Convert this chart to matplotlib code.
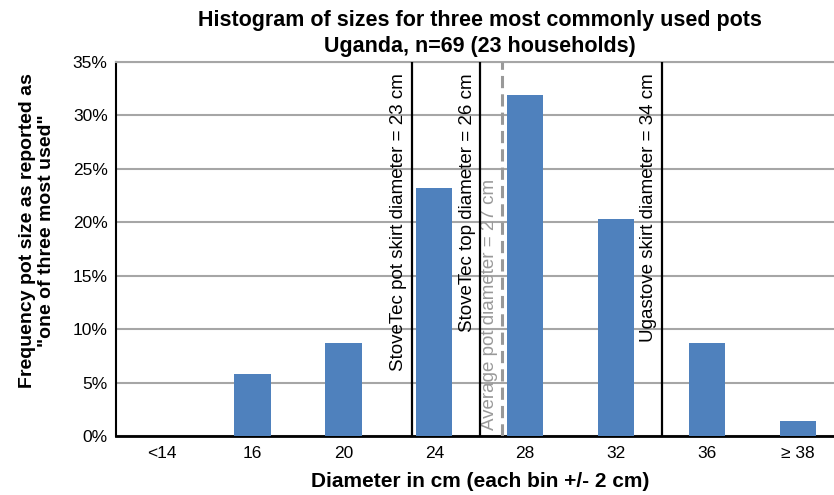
import matplotlib
matplotlib.use('Agg')
import matplotlib.pyplot as plt
import numpy as np

# bins (cm), each bin +/- 2 cm
bin_labels = ["<14", "16", "20", "24", "28", "32", "36", "\u2265 38"]
bin_centers_cm = [12, 16, 20, 24, 28, 32, 36, 40]
freq_pct = [0.0, 5.8, 8.7, 23.2, 31.9, 20.3, 8.7, 1.4]

# reference diameters drawn as vertical lines
ref_names = ["StoveTec pot skirt diameter = 23 cm",
             "StoveTec top diameter = 26 cm",
             "Average pot diameter = 27 cm",
             "Ugastove skirt diameter = 34 cm"]
ref_cm = [23, 26, 27, 34]

plt.rcParams['font.family'] = ['Liberation Sans', 'DejaVu Sans']

BAR_BLUE = "#4f81bd"
GRID_GRAY = "#a6a6a6"


def cm_to_pos(d):
    # bins are 4 cm apart; index 1 is the 16 cm bin
    return (d - 16) / 4.0 + 1


fig = plt.figure(figsize=(8.34, 4.95), dpi=100)
ax = fig.add_axes([116 / 834, 59 / 495, 727.5 / 834, 374 / 495])

x = np.arange(len(bin_labels))
ax.bar(x, freq_pct, width=0.4, color=BAR_BLUE, zorder=3)

ax.set_xlim(-0.5, len(bin_labels) - 0.5)
ax.set_ylim(0, 35)
ax.set_yticks(np.arange(0, 36, 5))
ax.set_yticklabels([f"{v}%" for v in range(0, 36, 5)])
ax.set_xticks(x)
ax.set_xticklabels(bin_labels)
ax.tick_params(length=0, labelsize=12.5, pad=6)
ax.tick_params(axis='x', pad=7)

ax.grid(axis='y', color=GRID_GRAY, linewidth=1.5, zorder=0)
ax.spines['left'].set_linewidth(1.5)
ax.spines['bottom'].set_linewidth(2)
ax.spines['top'].set_color(GRID_GRAY)
ax.spines['top'].set_linewidth(1.5)
ax.spines['right'].set_visible(False)

# vertical reference lines with rotated labels
for name, d in zip(ref_names, ref_cm):
    pos = cm_to_pos(d)
    if name.startswith("Average"):
        ax.axvline(pos, color="#999999", linewidth=2.2, linestyle=(0, (4, 2)), zorder=4)
        ax.annotate(name, xy=(pos, 0), xycoords=('data', 'axes fraction'),
                    xytext=(-3, 4), textcoords='offset points',
                    rotation=90, ha='right', va='bottom', fontsize=13.5, color="#999999")
    else:
        ax.axvline(pos, color="black", linewidth=1.6, zorder=4)
        ax.annotate(name, xy=(pos, 1), xycoords=('data', 'axes fraction'),
                    xytext=(-3, -8), textcoords='offset points',
                    rotation=90, ha='right', va='top', fontsize=13.5, color="black")

ax.set_title("Histogram of sizes for three most commonly used pots\nUganda, n=69 (23 households)",
             fontsize=15.5, fontweight='bold', pad=7, linespacing=1.3)
ax.set_xlabel("Diameter in cm (each bin +/- 2 cm)", fontsize=15, fontweight='bold', labelpad=8)
fig.text(37 / 834, 1 - 231 / 495,
         "Frequency pot size as reported as\n\"one of three most used\"",
         rotation=90, ha='center', va='center', fontsize=14, fontweight='bold',
         linespacing=1.2)

fig.savefig("out.png", dpi=100)
